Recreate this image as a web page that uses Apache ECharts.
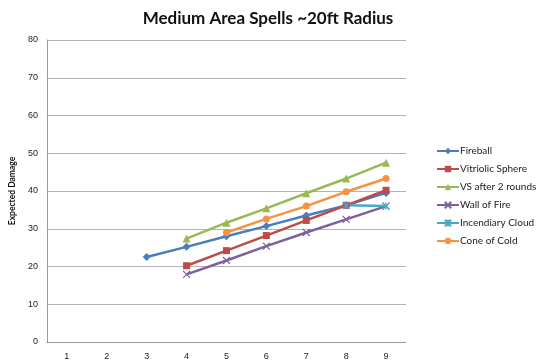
<!DOCTYPE html>
<html><head><meta charset="utf-8">
<script src="https://cdn.jsdelivr.net/npm/echarts@6/dist/echarts.min.js"></script>
<style>html,body{margin:0;padding:0;background:#fff}#c{width:540px;height:364px}</style>
</head><body><div id="c"></div>
<script>
const categories = ['1','2','3','4','5','6','7','8','9'];
const fireball = [null, null, 22.5, 25.2, 28.0, 30.7, 33.5, 36.2, 39.5];
const vitriolic = [null, null, null, 20.2, 24.2, 28.2, 32.2, 36.2, 40.2];
const vsAfter2 = [null, null, null, 27.4, 31.6, 35.4, 39.4, 43.3, 47.5];
const wallOfFire = [null, null, null, 17.9, 21.6, 25.4, 29.0, 32.5, 36.0];
const incendiary = [null, null, null, null, null, null, null, 36.2, 36.0];
const coneOfCold = [null, null, null, null, 29.0, 32.6, 36.0, 39.8, 43.3];
const yTicks = [0, 10, 20, 30, 40, 50, 60, 70, 80];

const xPath = 'path://M0,0L10,10M10,0L0,10';
const starPath = 'path://M0,0L10,10M10,0L0,10M5,0L5,10';
function mk(name, data, color, symbol, size, stroke) {
  return {
    name, type: 'line', data, symbol, symbolSize: size,
    connectNulls: false,
    lineStyle: { color, width: 2.5 },
    itemStyle: stroke ? { color: 'rgba(0,0,0,0)', borderColor: color, borderWidth: 1.2 } : { color },
    emphasis: { disabled: true }
  };
}
const chart = echarts.init(document.getElementById('c'), null, { renderer: 'canvas' });
chart.setOption({
  animation: false,
  title: {
    text: 'Medium Area Spells ~20ft Radius', left: 263, textAlign: 'center', top: 5,
    textStyle: { fontFamily: 'Lato', fontWeight: 'bold', fontSize: 17, color: '#111' }
  },
  grid: { left: 46, right: 134, top: 40, bottom: 22, containLabel: false },
  legend: {
    orient: 'vertical', left: 436, top: 146, padding: 0, itemWidth: 22, itemHeight: 8, itemGap: 8,
    textStyle: { fontFamily: 'Lato', fontSize: 10, color: '#222', padding: [0, 0, 0, -4] },
    data: ['Fireball', 'Vitriolic Sphere', 'VS after 2 rounds', 'Wall of Fire', 'Incendiary Cloud', 'Cone of Cold']
  },
  xAxis: {
    type: 'category', data: categories, boundaryGap: true,
    axisLine: { lineStyle: { color: '#9a9a9a' } }, axisTick: { show: false },
    axisLabel: { fontFamily: 'Liberation Sans', fontSize: 9, color: '#222', margin: 10 }
  },
  yAxis: {
    type: 'value', min: yTicks[0], max: yTicks[yTicks.length - 1], interval: 10,
    name: 'Expected Damage', nameLocation: 'middle', nameGap: 24, nameRotate: 90,
    nameTextStyle: { fontFamily: 'Lato', fontWeight: 'bold', fontSize: 8.5, color: '#111' },
    axisLine: { show: true, lineStyle: { color: '#9a9a9a' } }, axisTick: { show: false },
    splitLine: { lineStyle: { color: '#b4b4b4' } },
    axisLabel: { fontFamily: 'Liberation Sans', fontSize: 9, color: '#222', margin: 9 }
  },
  series: [
    mk('Fireball', fireball, '#4A7EBB', 'diamond', 8),
    mk('Vitriolic Sphere', vitriolic, '#BE4B48', 'rect', 7),
    mk('VS after 2 rounds', vsAfter2, '#98B954', 'triangle', 8),
    mk('Wall of Fire', wallOfFire, '#7D60A0', xPath, 7, true),
    mk('Incendiary Cloud', incendiary, '#46AAC5', starPath, 7, true),
    mk('Cone of Cold', coneOfCold, '#F69240', 'circle', 7)
  ]
});
</script></body></html>
